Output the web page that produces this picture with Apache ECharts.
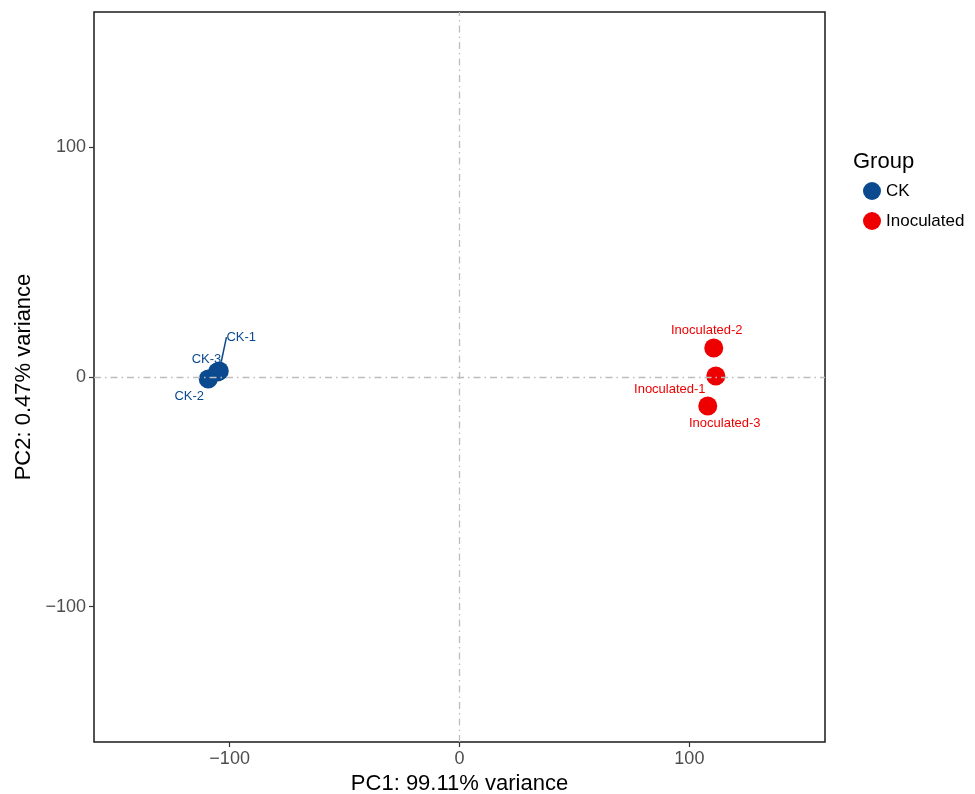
<!DOCTYPE html>
<html>
<head>
<meta charset="utf-8">
<script src="https://cdn.jsdelivr.net/npm/echarts@6/dist/echarts.min.js"></script>
<style>html,body{margin:0;padding:0;background:#fff}#c{width:975px;height:794px}</style>
</head>
<body>
<div id="c"></div>
<script>
var ckNames = ['CK-1', 'CK-2', 'CK-3'];
var ckPC1 = [-104.5, -109.3, -105.3];
var ckPC2 = [2.6, -0.9, 2.2];
var inNames = ['Inoculated-1', 'Inoculated-2', 'Inoculated-3'];
var inPC1 = [111.5, 110.6, 108.0];
var inPC2 = [0.4, 12.6, -12.6];
var tickValues = [-100, 0, 100];
var groups = ['CK', 'Inoculated'];
var colors = ['#0b4a8f', '#ee0000'];

var ckOffsets = [[22, -34], [-19, 17], [-11, -13]];
var inOffsets = [[-46, 13], [-7, -18], [17, 17]];

function makeData(names, xs, ys, lineIdx) {
  return names.map(function (n, i) {
    var d = { name: n, value: [xs[i], ys[i]] };
    if (i === lineIdx) d.labelLine = { show: true, lineStyle: { width: 1.5 } };
    return d;
  });
}

var chart = echarts.init(document.getElementById('c'));
var font = 'Liberation Sans, Arial, sans-serif';
function axisCommon(name, gap) {
  return {
    type: 'value', min: -159, max: 159,
    name: name, nameLocation: 'middle', nameGap: gap,
    nameTextStyle: { fontSize: 22, color: '#000', fontFamily: font },
    axisLine: { show: false, onZero: false },
    axisTick: { show: true, inside: false, length: 5, customValues: tickValues, lineStyle: { color: '#333', width: 1.2 } },
    axisLabel: {
      customValues: tickValues, fontSize: 18, color: '#4d4d4d', fontFamily: font, margin: 8,
      formatter: function (v) { return String(v).replace('-', '\u2212'); }
    },
    splitLine: { show: false }
  };
}
function seriesOf(idx, names, xs, ys, offs, lineIdx) {
  return {
    name: groups[idx], type: 'scatter', symbolSize: 19,
    itemStyle: { color: colors[idx], opacity: 1 },
    data: makeData(names, xs, ys, lineIdx),
    label: {
      show: true, position: 'inside', formatter: '{b}',
      color: colors[idx], fontSize: 13, fontFamily: font
    },
    labelLine: { show: false, lineStyle: { color: colors[idx] } },
    labelLayout: function (p) {
      var o = offs[p.dataIndex];
      return { dx: o[0], dy: o[1] };
    },
    emphasis: { disabled: true }
  };
}
var refLine = {
  silent: true, symbol: 'none', label: { show: false },
  lineStyle: { color: '#bdbdbd', type: [7, 4, 1.5, 4], width: 1.3 },
  data: [{ xAxis: 0 }, { yAxis: 0 }]
};
var s1 = seriesOf(0, ckNames, ckPC1, ckPC2, ckOffsets, 0);
s1.markLine = refLine;
var s2 = seriesOf(1, inNames, inPC1, inPC2, inOffsets, -1);

chart.setOption({
  animation: false,
  grid: { left: 94, right: 150, top: 12, bottom: 52, outerBoundsMode: 'none', containLabel: false, show: true, borderColor: '#1a1a1a', borderWidth: 1.5, backgroundColor: '#fff' },
  xAxis: axisCommon('PC1: 99.11% variance', 27),
  yAxis: axisCommon('PC2: 0.47% variance', 49),
  legend: {
    orient: 'vertical', left: 858, top: 177, itemWidth: 18, itemHeight: 18, itemGap: 12,
    icon: 'circle', data: groups,
    textStyle: { fontSize: 17, color: '#000', fontFamily: font }
  },
  graphic: [{ type: 'text', left: 853, top: 151, style: { text: 'Group', fontSize: 22, fill: '#000', fontFamily: font } }],
  series: [s1, s2]
});
</script>
</body>
</html>
